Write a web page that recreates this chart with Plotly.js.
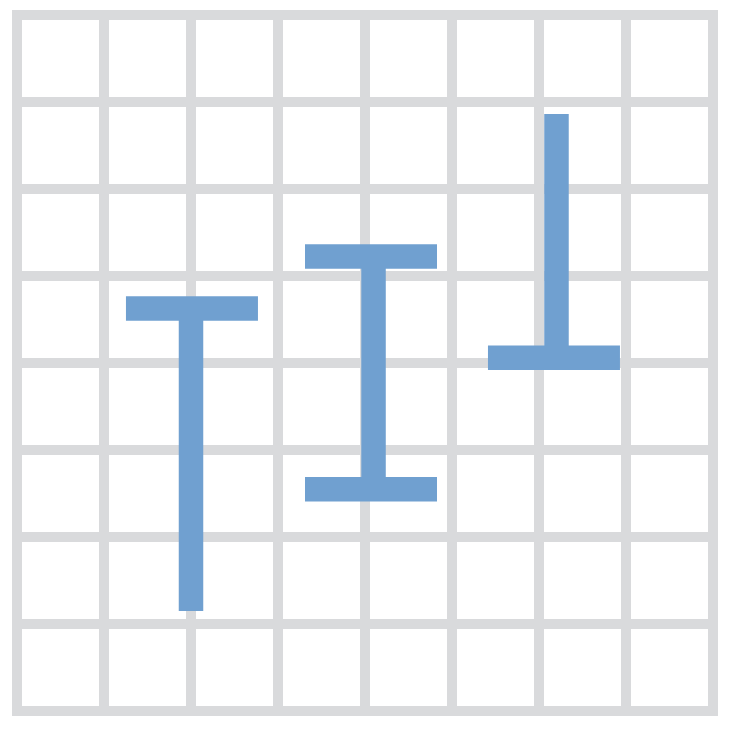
<!DOCTYPE html>
<html>
<head>
<meta charset="utf-8">
<script src="https://cdn.plot.ly/plotly-3.0.1.min.js"></script>
<style>html,body{margin:0;padding:0;background:#fff;}#chart{width:738px;height:736px;}</style>
</head>
<body>
<div id="chart"></div>
<script>
// Data (axis units, grid 0..8)
const positions = [2.0, 4.098, 6.201];
const capCenters = [2.011, 4.069, 6.172];
const lows = [1.149, 2.548, 4.060];
const highs = [4.626, 5.224, 6.862];
const capTop = [true, true, false];
const capBottom = [false, true, true];
const capHalf = 0.7586;

const xs = [], ys = [];
for (let i = 0; i < positions.length; i++) {
  // stem
  xs.push(positions[i], positions[i], null);
  ys.push(lows[i], highs[i], null);
  if (capTop[i]) {
    xs.push(capCenters[i] - capHalf, capCenters[i] + capHalf, null);
    ys.push(highs[i], highs[i], null);
  }
  if (capBottom[i]) {
    xs.push(capCenters[i] - capHalf, capCenters[i] + capHalf, null);
    ys.push(lows[i], lows[i], null);
  }
}

const trace = {
  type: 'scatter', mode: 'lines', x: xs, y: ys,
  line: {color: '#70a0d0', width: 24.5},
  connectgaps: false, hoverinfo: 'skip', cliponaxis: false
};

const axisCommon = {
  range: [0, 8], dtick: 1, tick0: 0, showgrid: true, gridcolor: '#d9dadc', gridwidth: 10,
  zeroline: false, showline: false, showticklabels: false, ticks: '', fixedrange: true
};

const layout = {
  width: 738, height: 736,
  margin: {l: 17, r: 25, t: 15, b: 25, pad: 0},
  paper_bgcolor: '#ffffff', plot_bgcolor: '#ffffff',
  showlegend: false,
  xaxis: Object.assign({}, axisCommon),
  yaxis: Object.assign({}, axisCommon),
  shapes: [{type: 'rect', xref: 'paper', yref: 'paper', x0: 0, x1: 1, y0: 0, y1: 1,
            line: {color: '#d9dadc', width: 10}, layer: 'below'}]
};

Plotly.newPlot('chart', [trace], layout, {displayModeBar: false, staticPlot: true});
</script>
</body>
</html>
